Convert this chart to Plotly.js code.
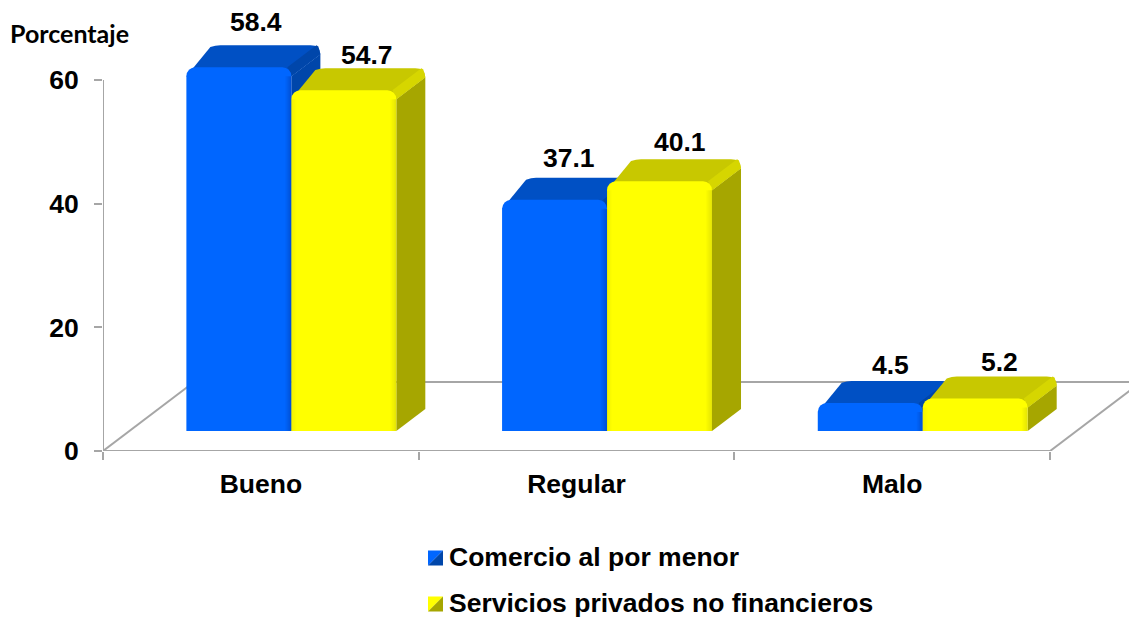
<!DOCTYPE html>
<html><head><meta charset="utf-8">
<script src="https://cdn.plot.ly/plotly-3.0.1.min.js"></script>
<style>html,body{margin:0;padding:0;background:#fff}#c{width:1129px;height:617px}</style>
</head><body><div id="c"></div>
<script>
const categories = ['Bueno','Regular','Malo'];
const comercio = [58.4,37.1,4.5];
const servicios = [54.7,40.1,5.2];
const seriesNames = ['Comercio al por menor','Servicios privados no financieros'];
const yTicks = [0,20,40,60];
const labelShiftX = [[17,14,20],[23,20,24]];
const labelShiftY = [[23,20,16],[13,17,15]];

const W=1129,H=617,L=103,PH=451;
const pxX=315.67, pxY=6.183, pxY2=6.23, barBase=431, groupShift=30.5;
const barW=0.3325, dx=29/pxX, dy=22/pxY2;
const font={family:'"Liberation Sans", Arial, sans-serif',size:26.5,color:'#000',weight:700};
const GREY='#a6a6a6';
const palette=[{front:'#0066ff',top:'#0050c4',side:'#0046aa',bevelS:'#0046aa'},
               {front:'#ffff00',top:'#c8c800',side:'#a6a600',bevelS:'#d6d600'}];
const paperX=p=>(p-L)/(W-L), paperY=p=>(PH-p)/PH;

const shapes=[];
const backX=91/pxX, backY=69/pxY;
function line(x0,y0,x1,y1){shapes.push({type:'line',xref:'x',yref:'y',x0,y0,x1,y1,layer:'below',line:{color:GREY,width:2}});}
line(-0.5,0,2.5,0); line(-0.5,0,-0.5,60);
line(-0.5,0,-0.5+backX,backY); line(2.5,0,2.5+backX,backY); line(-0.5+backX,backY,2.75,backY);

const rx=10/pxX, ry=9/pxY2, leftExtra=5/pxX;
function boxFaces(i,v,s){
  const x0=i+(s===0?-barW:0), x1=x0+barW, c=palette[s];
  const bl=x0+dx+leftExtra;
  const top=`M ${x0} ${v-ry} L ${bl-rx} ${v+dy-0.3} Q ${bl-rx/2} ${v+dy} ${bl} ${v+dy} L ${x1+dx-rx} ${v+dy} Q ${x1+dx} ${v+dy} ${x1+dx} ${v+dy-ry} L ${x1} ${v-ry} Z`;
  const side=`M ${x1} ${Math.max(v-ry,0)} L ${x1+dx} ${Math.max(v+dy-ry,dy)} L ${x1+dx} ${dy} L ${x1} 0 Z`;
  shapes.push({type:'path',xref:'x2',yref:'y2',path:side,layer:'below',line:{width:0},fillcolor:c.side});
  shapes.push({type:'path',xref:'x2',yref:'y2',path:top,layer:'below',line:{width:0},fillcolor:c.top});
  const b=`M ${x1-rx*0.4} ${v} L ${x1-rx*0.4+dx} ${v+dy} L ${x1+dx-rx*0.2} ${v+dy-0.2} L ${x1+dx} ${v+dy-ry} L ${x1} ${v-ry} Z`;
  shapes.push({type:'path',xref:'x2',yref:'y2',path:b,layer:'below',line:{width:0},fillcolor:c.bevelS});
  const px=1/pxX;
  for(let k=0;k<5;k++){
    const a=(s===0?0.10:0.05)*(5-k)/2.5;
    shapes.push({type:'rect',xref:'x2',yref:'y2',x0:x1-(k+1)*px*1.2,x1:x1-k*px*1.2,y0:0,y1:v-ry,layer:'above',line:{width:0},fillcolor:`rgba(0,0,60,${a})`});
    if(s===1) shapes.push({type:'rect',xref:'x2',yref:'y2',x0:x0+k*px,x1:x0+(k+1)*px,y0:0,y1:v-ry,layer:'above',line:{width:0},fillcolor:`rgba(60,60,0,${a*0.6})`});
  }
}
[comercio,servicios].forEach((vals,s)=>vals.forEach((v,i)=>boxFaces(i,v,s)));

const annotations=[];
const legendY=[558,604];
seriesNames.forEach((n,s)=>{
  const y0=legendY[s]-7.5,y1=legendY[s]+7.5,x0=428,x1=443,c=palette[s];
  const P=(a,b)=>`${paperX(a)} ${paperY(b)}`;
  shapes.push({type:'path',xref:'paper',yref:'paper',layer:'above',line:{width:0},fillcolor:c.front,path:`M ${P(x0,y1)} L ${P(x0,y0)} L ${P(x1,y0)} Z`});
  shapes.push({type:'path',xref:'paper',yref:'paper',layer:'above',line:{width:0},fillcolor:c.side,path:`M ${P(x0,y1)} L ${P(x1,y1)} L ${P(x1,y0)} Z`});
  annotations.push({xref:'paper',yref:'paper',x:paperX(446.5),y:paperY(legendY[s]-1),xanchor:'left',yanchor:'middle',showarrow:false,text:n,font,align:'left'});
});
annotations.push({xref:'paper',yref:'paper',x:paperX(69),y:paperY(33),xanchor:'center',yanchor:'middle',showarrow:false,text:'Porcentaje',font:{family:'Lato, sans-serif',size:25,color:'#000',weight:700}});

[comercio,servicios].forEach((vals,s)=>vals.forEach((v,i)=>{
  annotations.push({xref:'x2',yref:'y2',x:i+(s===0?-barW/2:barW/2),y:v+dy,xanchor:'center',yanchor:'middle',showarrow:false,
    xshift:labelShiftX[s][i],yshift:labelShiftY[s][i],text:v.toFixed(1),font});
}));

const xs=categories.map((_,i)=>i);
const traces=[comercio,servicios].map((vals,s)=>({type:'bar',x:xs,y:vals,name:seriesNames[s],xaxis:'x2',yaxis:'y2',
  marker:{color:palette[s].front,cornerradius:9,line:{width:0}},showlegend:false,hoverinfo:'x+y',cliponaxis:false}));

const layout={width:W,height:H,autosize:false,margin:{l:L,r:0,t:0,b:H-PH,pad:0},paper_bgcolor:'#fff',plot_bgcolor:'rgba(0,0,0,0)',
  showlegend:false,barmode:'group',bargap:0.335,bargroupgap:0,font,shapes,annotations,
  xaxis:{range:[-0.5,2.75],tickmode:'array',tickvals:xs,ticktext:categories,ticks:'',showgrid:false,zeroline:false,showline:false,tickfont:font,ticklabelstandoff:14,
    minor:{tickmode:'array',tickvals:[-0.5,0.5,1.5,2.5],ticks:'outside',ticklen:8,tickwidth:2,tickcolor:GREY,showgrid:false}},
  yaxis:{range:[0,PH/pxY],tickmode:'array',tickvals:yTicks,ticks:'outside',ticklen:8,tickwidth:2,tickcolor:GREY,showgrid:false,zeroline:false,showline:false,tickfont:font,ticklabelstandoff:10},
  xaxis2:{overlaying:'x',anchor:'y2',visible:false,range:[-0.5-groupShift/pxX,2.75-groupShift/pxX]},
  yaxis2:{overlaying:'y',anchor:'x2',visible:false,range:[-(PH-barBase)/pxY2,barBase/pxY2]}
};
Plotly.newPlot('c',traces,layout,{displayModeBar:false,staticPlot:true});
</script></body></html>
